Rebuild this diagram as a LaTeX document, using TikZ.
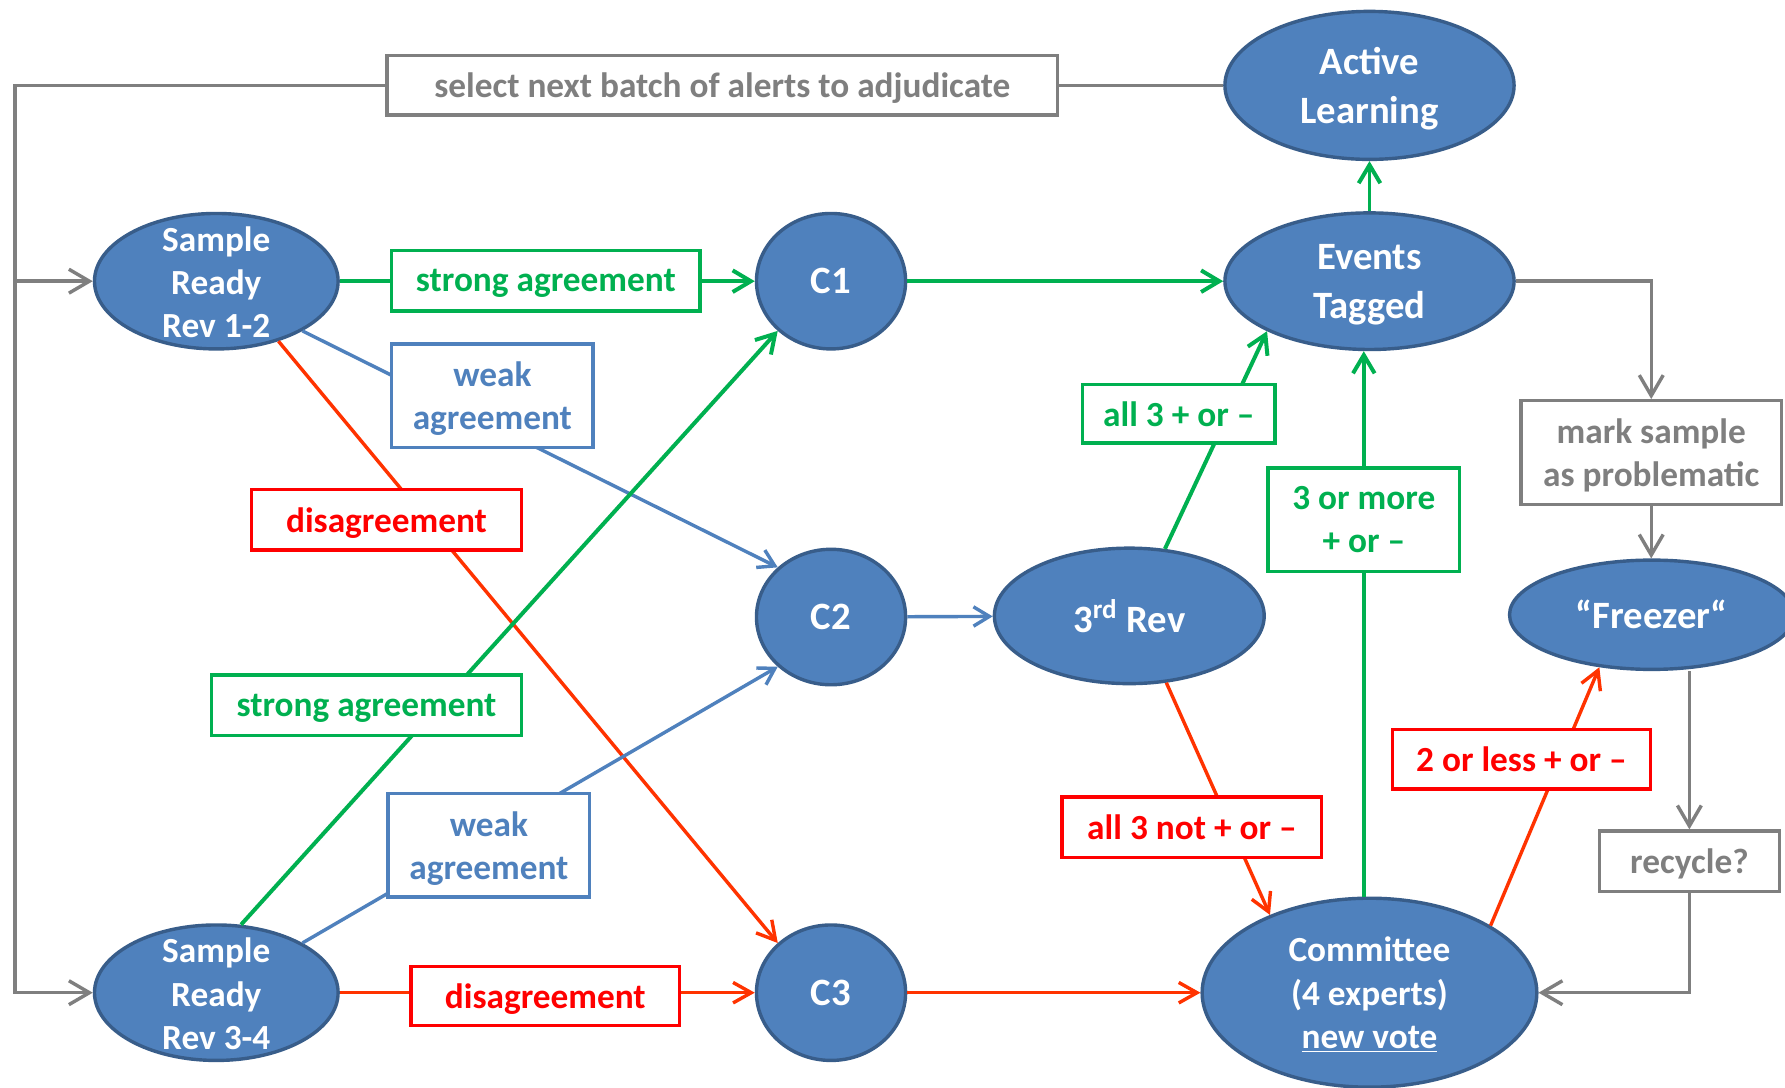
\documentclass[tikz,border=0pt]{standalone}
\usepackage{fontspec}
\setmainfont{Carlito}
\usetikzlibrary{shapes.geometric,arrows.meta}
\definecolor{nodeblue}{HTML}{4F81BD}
\definecolor{nodeedge}{HTML}{385D8A}
\definecolor{agreegreen}{HTML}{00B050}
\definecolor{boxred}{HTML}{FF0000}
\definecolor{linered}{HTML}{FF3300}
\definecolor{midgray}{HTML}{7F7F7F}
\tikzset{
  bubble/.style={ellipse, draw=nodeedge, fill=nodeblue, line width=1.5pt, inner sep=0pt,
    text=white, align=center, font=\bfseries\fontsize{17}{21.5}\selectfont},
  stext/.style={text=white, font=\bfseries\fontsize{15.5}{19}\selectfont, align=center, inner sep=0pt},
  lbox/.style={rectangle, fill=white, line width=1.5pt, inner sep=0pt, align=center, text depth=0pt,
    font=\bfseries\fontsize{15.5}{19}\selectfont},
  gbox/.style={lbox, draw=agreegreen, text=agreegreen},
  wbox/.style={lbox, draw=nodeblue, text=nodeblue},
  rbox/.style={lbox, draw=boxred, text=boxred},
  graybox/.style={lbox, draw=midgray, text=midgray},
  gline/.style={draw=agreegreen, line width=1.75pt, -{Straight Barb[length=8pt,width=9.5pt]}},
  bline/.style={draw=nodeblue, line width=1.5pt, -{Straight Barb[length=7pt,width=8.5pt]}},
  rline/.style={draw=linered, line width=1.5pt, -{Straight Barb[length=8pt,width=9pt]}},
  grayline/.style={draw=midgray, line width=1.5pt},
  grayarrow/.style={grayline, -{Straight Barb[length=9pt,width=10.5pt]}}
}
\begin{document}
\begin{tikzpicture}[x=0.5pt,y=-0.5pt]
\useasboundingbox (0,0) rectangle (1568,955);
\clip (0,0) rectangle (1568,955);
\fill[white] (0,0) rectangle (1568,955);

% ellipses
\node[bubble, text depth=0pt, minimum width=127pt, minimum height=65pt] (al) at (1203,75) {Active\\Learning};
\node[bubble, text depth=0pt, minimum width=127pt, minimum height=60pt] (et) at (1203,247) {Events\\Tagged};
\node[bubble, minimum width=107pt, minimum height=59.5pt] (s12) at (190,247) {};
\node[stext] (s12t) at (190,248) {Sample\\Ready\\Rev 1-2};
\node[bubble, minimum width=107pt, minimum height=59.5pt] (s34) at (190,872) {};
\node[stext] (s34t) at (190,873) {Sample\\Ready\\Rev 3-4};
\node[bubble, minimum width=65.5pt, minimum height=59.5pt] (c1) at (730,247) {C1};
\node[bubble, minimum width=65.5pt, minimum height=59.5pt] (c2) at (730,542) {C2};
\node[bubble, minimum width=65.5pt, minimum height=59.5pt] (c3) at (730,872) {C3};
\node[bubble, minimum width=118.5pt, minimum height=59.5pt] (rev3) at (992,541) {3\textsuperscript{rd} Rev};
\node[bubble, minimum width=125pt, minimum height=48pt] (frz) at (1451,540) {“Freezer“};
\node[bubble, text depth=0pt, minimum width=147pt, minimum height=83pt, font=\bfseries\fontsize{15.5}{19}\selectfont] (com) at (1203,872) {Committee\\(4 experts)\\\underline{new vote}};

% gray boxes
\node[graybox, minimum width=294.5pt, minimum height=26pt] (sel) at (634.5,75) {select next batch of alerts to adjudicate};
\node[graybox, minimum width=114.5pt, minimum height=45.5pt] (mark) at (1450.5,397.5) {mark sample\\as problematic};
\node[graybox, minimum width=79pt, minimum height=26.5pt] (rec) at (1484,756.5) {recycle?};

% gray connectors
\coordinate (lc) at (13,75);
\draw[grayline] (al.west) -- (sel.east);
\draw[grayarrow] (sel.west) -- (lc) |- (s34.west);
\draw[grayarrow] (lc |- s12.west) -- (s12.west);
\draw[grayarrow] (et.east) -| (mark.north);
\draw[grayarrow] (mark.south) -- (mark.south |- frz.north);
\draw[grayarrow] (rec.north |- frz.south) -- (rec.north);
\draw[grayarrow] (rec.south) |- (com.east);

% colored connectors
\draw[gline] (s12) -- (c1);
\draw[bline] (s12.-30) -- (c2.137);
\draw[rline] (s12.-44) -- (c3.137);
\draw[gline] (s34.70) -- (c1.-137);
\draw[bline] (s34.30) -- (c2.-137);
\draw[rline] (s34) -- (c3);
\draw[gline] (c1) -- (et);
\draw[bline] (c2) -- (rev3);
\draw[rline] (c3) -- (com);
\draw[gline] (rev3.62) -- (et.-154);
\draw[gline] ([xshift=-2.5pt]com.north) -- ([xshift=-2.5pt]et.south);
\draw[gline] (et) -- (al);
\draw[rline] (rev3.-61) -- (com.142.6);
\draw[rline] (com.29.3) -- (frz.-135.6);

% label boxes
\node[gbox, minimum width=135.5pt, minimum height=26.5pt] (sa1) at (479.5,246.5) {strong agreement};
\node[wbox, minimum width=88.5pt, minimum height=45.5pt] (wa1) at (432.5,347.5) {weak\\agreement};
\node[rbox, minimum width=118.5pt, minimum height=26.5pt] (da1) at (339.5,456.5) {disagreement};
\node[gbox, minimum width=136pt, minimum height=26.5pt] (sa2) at (322,619.5) {strong agreement};
\node[wbox, minimum width=88.5pt, minimum height=45.5pt] (wa2) at (429.5,742.5) {weak\\agreement};
\node[rbox, minimum width=118pt, minimum height=26pt] (da2) at (479,875) {disagreement};
\node[gbox, minimum width=84.5pt, minimum height=25.5pt] (a3) at (1035.5,363.5) {all 3 + or –};
\node[gbox, minimum width=84pt, minimum height=45.5pt] (m3) at (1198,456.5) {3 or more\\+ or –};
\node[rbox, minimum width=113.5pt, minimum height=26pt] (l2) at (1336.5,667) {2 or less + or –};
\node[rbox, minimum width=114pt, minimum height=26.5pt] (n3) at (1047,726.5) {all 3 not + or –};
\end{tikzpicture}
\end{document}
